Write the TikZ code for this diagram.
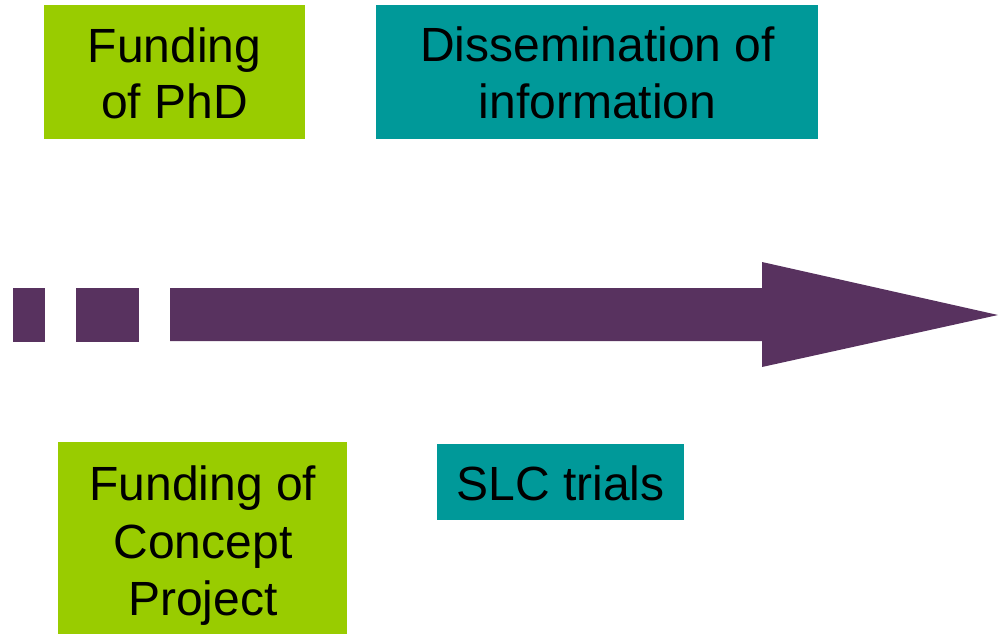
\documentclass[tikz,border=0pt]{standalone}
\usepackage{fontspec}
\setmainfont{Liberation Sans}
\definecolor{lgreen}{HTML}{99CC00}
\definecolor{teal2}{HTML}{009999}
\definecolor{plum}{HTML}{58325F}
\begin{document}
\begin{tikzpicture}[x=1pt,y=-1pt,
  boxshape/.style={fill=#1,draw=none,inner sep=0pt,outer sep=0pt},
  label/.style={inner sep=0pt,outer sep=0pt,anchor=north,align=center,
    font=\fontsize{48}{57.5}\selectfont,text=black},
  barshape/.style={fill=plum,draw=none}]
\useasboundingbox (0,0) rectangle (999,635);
% boxes
\node[boxshape=lgreen,minimum width=261pt,minimum height=134pt] (b1) at (174.5,72) {};
\node[boxshape=teal2,minimum width=442pt,minimum height=134pt] (b2) at (597,72) {};
\node[boxshape=lgreen,minimum width=289pt,minimum height=192pt] (b3) at (202.5,538) {};
\node[boxshape=teal2,minimum width=247pt,minimum height=76pt] (b4) at (560.5,482) {};
% texts
\node[label,font=\fontsize{48}{56}\selectfont] (t1) at (174.5,27.5) {Funding\\of PhD};
\node[label,font=\fontsize{48}{57}\selectfont] (t2) at (597.5,26.5) {Dissemination of\\information};
\node[label] (t3) at (203,466) {Funding of\\Concept\\Project};
\node[label] (t4) at (560.5,465.5) {SLC trials};
% timeline arrow
\fill[barshape] (13,288) rectangle (45,342);
\fill[barshape] (76,288) rectangle (139,342);
\fill[barshape] (170,288) -- (762,288) -- (762,262) -- (998,315) -- (762,367) -- (762,341) -- (170,341) -- cycle;
\end{tikzpicture}
\end{document}
